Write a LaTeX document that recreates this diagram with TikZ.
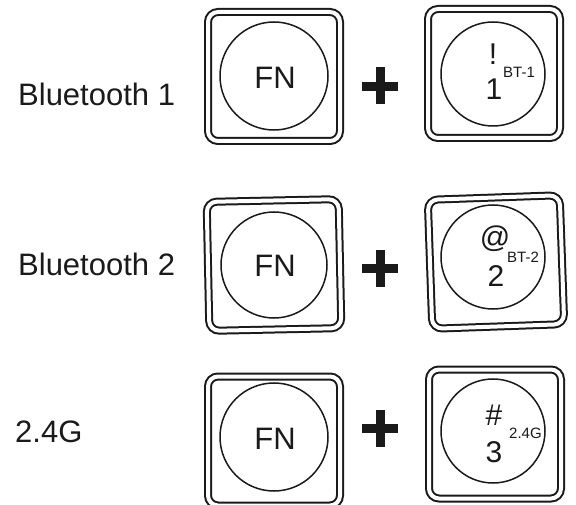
\documentclass[tikz,border=0pt]{standalone}
\usepackage{fontspec}
\setmainfont{Liberation Sans}
\definecolor{ink}{HTML}{1A1A1A}
\begin{document}
\begin{tikzpicture}[x=1pt,y=-1pt,
  keybox/.style={draw=ink, double=white, double distance=4pt, line width=2pt,
    rounded corners=10pt, minimum width=132pt, minimum height=129pt, inner sep=0pt},
  keyring/.style={draw=ink, circle, line width=1.5pt, minimum size=#1, inner sep=0pt},
  label/.style={anchor=base west, inner sep=0pt, text=ink, font=\fontsize{31}{31}\selectfont},
  fn/.style={inner sep=0pt, text=ink, font=\fontsize{31}{31}\selectfont},
  big/.style={anchor=base, inner sep=0pt, text=ink, font=\fontsize{30}{30}\selectfont},
  tiny/.style={anchor=base west, inner sep=0pt, text=ink, font=\fontsize{15}{15}\selectfont},
  plusbar/.style={fill=ink}]
\useasboundingbox (0,0) rectangle (576,505);
\clip (0,0) rectangle (576,505);
\fill[white] (0,0) rectangle (576,505);

% labels
\node[label] (l1) at (18,106) {Bluetooth 1};
\node[label] (l2) at (18,276) {Bluetooth 2};
\node[label] (l3) at (15,442) {2.4G};

% row 1
\node[keybox] (k1a) at (274,76.5) {};
\node[keyring=108pt] (c1a) at (274,76) {};
\node[fn] (f1) at (275,78) {FN};
\node[keybox] (k1b) at (494,73.5) {};
\node[keyring=104pt] (c1b) at (493,74) {};
\node[big] (s1) at (493,65) {!};
\node[big] (d1) at (494,100) {1};
\node[tiny] (t1) at (503,78) {BT-1};
\fill[plusbar] (362,82) rectangle (398,91);
\fill[plusbar] (375.5,67) rectangle (384.5,104);

% row 2
\node[keybox, rotate=1.2] (k2a) at (274,265) {};
\node[keyring=106pt] (c2a) at (274,265) {};
\node[fn] (f2) at (275,266) {FN};
\node[keybox, rotate=2] (k2b) at (496,262) {};
\node[keyring=104pt] (c2b) at (493,257) {};
\node[big] (s2) at (495,248) {@};
\node[big] (d2) at (496,287) {2};
\node[tiny] (t2) at (507,263) {BT-2};
\fill[plusbar] (362,264) rectangle (398,273);
\fill[plusbar] (375.5,250) rectangle (384.5,287);

% row 3
\node[keybox] (k3a) at (274,441) {};
\node[keyring=108pt] (c3a) at (274,437) {};
\node[fn] (f3) at (275,439) {FN};
\node[keybox] (k3b) at (495,434) {};
\node[keyring=104pt] (c3b) at (493,431) {};
\node[big] (s3) at (494,425) {\#};
\node[big] (d3) at (494,462) {3};
\node[tiny] (t3) at (509,438) {2.4G};
\fill[plusbar] (362,424) rectangle (398,433);
\fill[plusbar] (375.5,410) rectangle (384.5,447);
\end{tikzpicture}
\end{document}
